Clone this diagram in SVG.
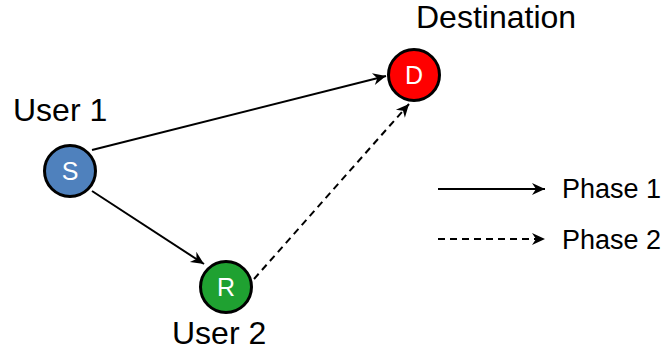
<svg xmlns="http://www.w3.org/2000/svg" width="666" height="352" viewBox="0 0 666 352">
<style>
.lbl{font-family:"Liberation Sans",Arial,sans-serif;font-size:32px;fill:#000}
.leg{font-family:"Liberation Sans",Arial,sans-serif;font-size:27px;fill:#000}
.in{font-family:"Liberation Sans",Arial,sans-serif;font-size:25px;fill:#fff;text-anchor:middle}
.node{stroke:#000;stroke-width:3}
.edge{stroke:#000;stroke-width:2;fill:none}
.dash{stroke-dasharray:7 5}
</style>
<defs>
<marker id="ah" viewBox="-14 -7 16 14" refX="0" refY="0" markerWidth="16" markerHeight="14" markerUnits="userSpaceOnUse" orient="auto">
<path d="M0,0 L-13,-6 L-9,0 L-13,6 Z" fill="#000"/>
</marker>
</defs>
<rect width="666" height="352" fill="#fff"/>
<g id="connectors">
<line class="edge" x1="92" y1="150" x2="386" y2="76" marker-end="url(#ah)"/>
<line class="edge" x1="92" y1="191" x2="204" y2="264" marker-end="url(#ah)"/>
<line class="edge dash" x1="254" y1="279" x2="409" y2="104" marker-end="url(#ah)"/>
</g>
<g id="node-S">
<circle class="node" cx="70" cy="171" r="25.5" fill="#4F81BD"/>
<text class="in" x="70" y="180">S</text>
<text class="lbl" x="13" y="121">User 1</text>
</g>
<g id="node-D">
<circle class="node" cx="414" cy="75" r="25.5" fill="#FF0000"/>
<text class="in" x="414" y="84">D</text>
<text class="lbl" x="416" y="28">Destination</text>
</g>
<g id="node-R">
<circle class="node" cx="226" cy="287" r="25.5" fill="#1FA131"/>
<text class="in" x="226" y="296">R</text>
<text class="lbl" x="172" y="344">User 2</text>
</g>
<g id="legend">
<line class="edge" x1="438" y1="189" x2="545" y2="189" marker-end="url(#ah)"/>
<line class="edge dash" x1="438" y1="239" x2="545" y2="239" marker-end="url(#ah)"/>
<text class="leg" x="562" y="198">Phase 1</text>
<text class="leg" x="562" y="249">Phase 2</text>
</g>
</svg>
